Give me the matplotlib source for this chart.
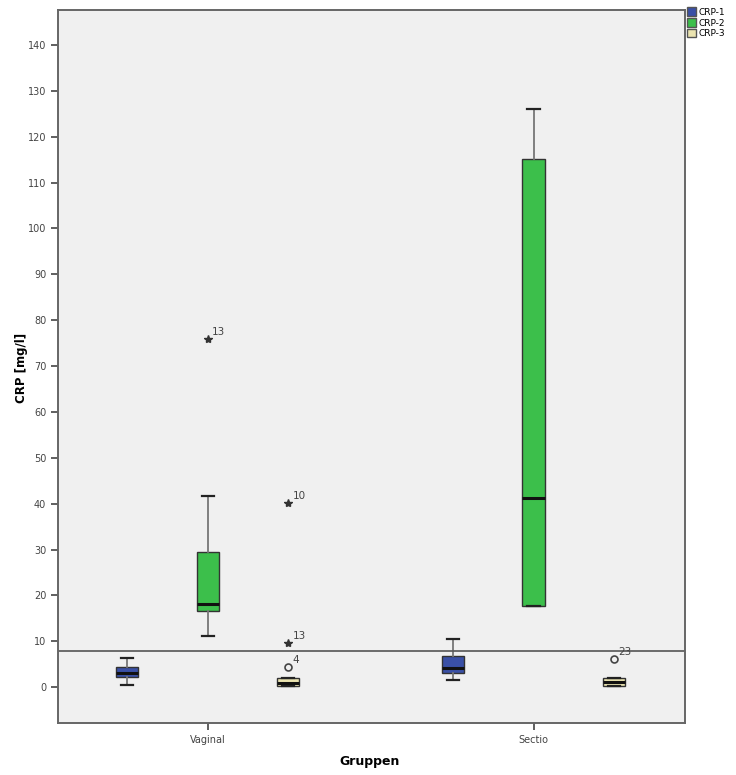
import matplotlib
matplotlib.use("Agg")
import matplotlib.pyplot as plt
from matplotlib.patches import Patch

# groups and series
groups = ["Vaginal", "Sectio"]
series = ["CRP-1", "CRP-2", "CRP-3"]
colors = ["#3a50a6", "#3cbf4b", "#ebe4b0"]

# box statistics per series, one value per group (Vaginal, Sectio)
whislo = {"CRP-1": [0.5, 1.6], "CRP-2": [11.2, 17.7], "CRP-3": [0.3, 0.3]}
q1 = {"CRP-1": [2.3, 3.0], "CRP-2": [16.7, 17.7], "CRP-3": [0.3, 0.3]}
med = {"CRP-1": [3.2, 4.1], "CRP-2": [18.1, 41.3], "CRP-3": [0.9, 1.1]}
q3 = {"CRP-1": [4.4, 6.7], "CRP-2": [29.4, 115.2], "CRP-3": [1.9, 2.0]}
whishi = {"CRP-1": [6.4, 10.5], "CRP-2": [41.7, 126.0], "CRP-3": [1.9, 2.0]}

# outliers: (series, group index, value, case number, extreme?)
outliers = [
    ("CRP-2", 0, 75.9, "13", True),
    ("CRP-3", 0, 40.2, "10", True),
    ("CRP-3", 0, 9.6, "13", True),
    ("CRP-3", 0, 4.4, "4", False),
    ("CRP-3", 1, 6.2, "23", False),
]

ref_line = 8.0
yticks = list(range(0, 150, 10))

fig = plt.figure(figsize=(7.36, 7.75), dpi=100)
ax = fig.add_axes([0.0788, 0.0671, 0.8519, 0.9199])
ax.set_facecolor("#f0f0f0")

offset = 0.247
width = 0.068
for i, s in enumerate(series):
    stats = []
    pos = []
    for g in range(len(groups)):
        stats.append(dict(med=med[s][g], q1=q1[s][g], q3=q3[s][g],
                          whislo=whislo[s][g], whishi=whishi[s][g], fliers=[]))
        pos.append(g + 1 + (i - 1) * offset)
    ax.bxp(stats, positions=pos, widths=width, patch_artist=True,
           showfliers=False, manage_ticks=False,
           boxprops=dict(facecolor=colors[i], edgecolor="#333333", linewidth=1.0),
           medianprops=dict(color="#111111", linewidth=2.2),
           whiskerprops=dict(color="#777777", linewidth=1.3),
           capprops=dict(color="#222222", linewidth=1.6),
           capwidths=width * 0.55)

for s, g, v, lab, extreme in outliers:
    x = g + 1 + (series.index(s) - 1) * offset
    if extreme:
        ax.plot(x, v, marker="*", color="#333333", markersize=6, linestyle="none")
    else:
        ax.plot(x, v, marker="o", markerfacecolor="none", markeredgecolor="#444444",
                markersize=5, markeredgewidth=1.2, linestyle="none")
    ax.annotate(lab, (x, v), xytext=(3, 3), textcoords="offset points",
                fontsize=7.5, color="#444444")

ax.axhline(ref_line, color="#555555", linewidth=1.2)

ax.set_xlim(0.54, 2.465)
ax.set_ylim(-7.8, 147.6)
ax.set_xticks([1, 2])
ax.set_xticklabels(groups)
ax.set_yticks(yticks)
ax.tick_params(axis="both", labelsize=7, colors="#444444", length=5, width=1.2,
               direction="out")
for sp in ax.spines.values():
    sp.set_color("#666666")
    sp.set_linewidth(1.4)

fig.text(21 / 736, 1 - 368 / 775, "CRP [mg/l]", rotation=90, ha="center", va="center",
         fontsize=8.5, fontweight="bold")
fig.text(370 / 736, 1 - 762 / 775, "Gruppen", ha="center", va="center",
         fontsize=9, fontweight="bold")

handles = [Patch(facecolor=c, edgecolor="#555555", label=s) for c, s in zip(colors, series)]
fig.legend(handles=handles, loc="upper left", bbox_to_anchor=(0.928, 0.995),
           frameon=False, fontsize=6.5, handlelength=1.0, handleheight=1.0,
           handletextpad=0.3, labelspacing=0.2, borderaxespad=0)

fig.savefig("out.png", dpi=100)
